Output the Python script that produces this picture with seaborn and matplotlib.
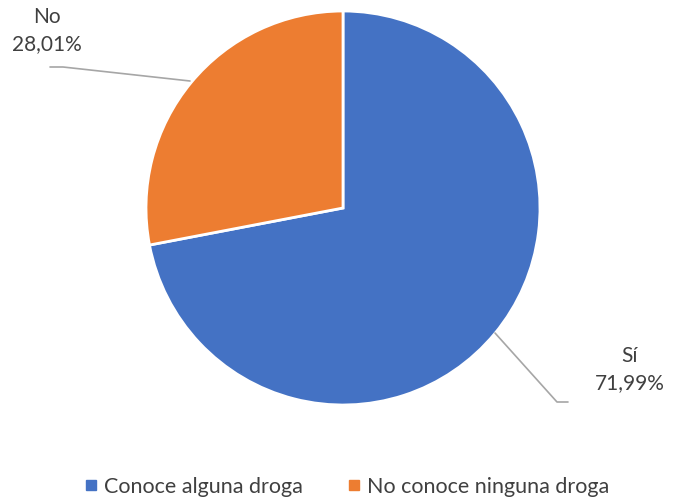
import matplotlib
matplotlib.use("Agg")
import matplotlib.pyplot as plt
import seaborn as sns

categories = ["Conoce alguna droga", "No conoce ninguna droga"]
short_labels = ["Sí", "No"]
values = [71.99, 28.01]
value_labels = ["71,99%", "28,01%"]
colors = ["#4472C4", "#ED7D31"]

sns.set_theme(style="white")
plt.rcParams['font.family'] = ['Lato', 'DejaVu Sans']

W, H = 678, 503
fig = plt.figure(figsize=(W / 100, H / 100), dpi=100)
ax = fig.add_axes([0, 0, 1, 1])
ax.set_xlim(0, W)
ax.set_ylim(0, H)
ax.set_aspect('equal')
ax.axis('off')

def P(x, y):
    return x, H - y

wedges, _ = ax.pie(values, colors=colors, startangle=90, counterclock=False,
                   center=P(343, 208), radius=197,
                   wedgeprops=dict(edgecolor='white', linewidth=2))
ax.set_xlim(0, W)
ax.set_ylim(0, H)

tc = '#404040'
lc = '#A6A6A6'
# leader lines
xs, ys = zip(*[P(50, 67), P(63, 67), P(190, 81)])
ax.plot(xs, ys, color=lc, lw=1.2)
xs, ys = zip(*[P(495, 333), P(557, 402), P(568, 402)])
ax.plot(xs, ys, color=lc, lw=1.2)

fs = 15
ax.text(*P(47, 17), short_labels[1], ha='center', va='center', fontsize=fs, color=tc)
ax.text(*P(47, 44), value_labels[1], ha='center', va='center', fontsize=fs, color=tc)
ax.text(*P(630, 356), short_labels[0], ha='center', va='center', fontsize=fs, color=tc)
ax.text(*P(630, 383), value_labels[0], ha='center', va='center', fontsize=fs, color=tc)

handles = [plt.Line2D([], [], marker='s', linestyle='', markersize=7,
                      markerfacecolor=c, markeredgecolor=c) for c in colors]
leg = fig.legend(handles, categories, loc='center', bbox_to_anchor=(346 / W, 1 - 487 / H),
                 ncol=2, frameon=False, fontsize=15.5, handletextpad=0.2,
                 columnspacing=2.0, handlelength=0.8)
for t in leg.get_texts():
    t.set_color(tc)

fig.savefig("out.png", dpi=100)
